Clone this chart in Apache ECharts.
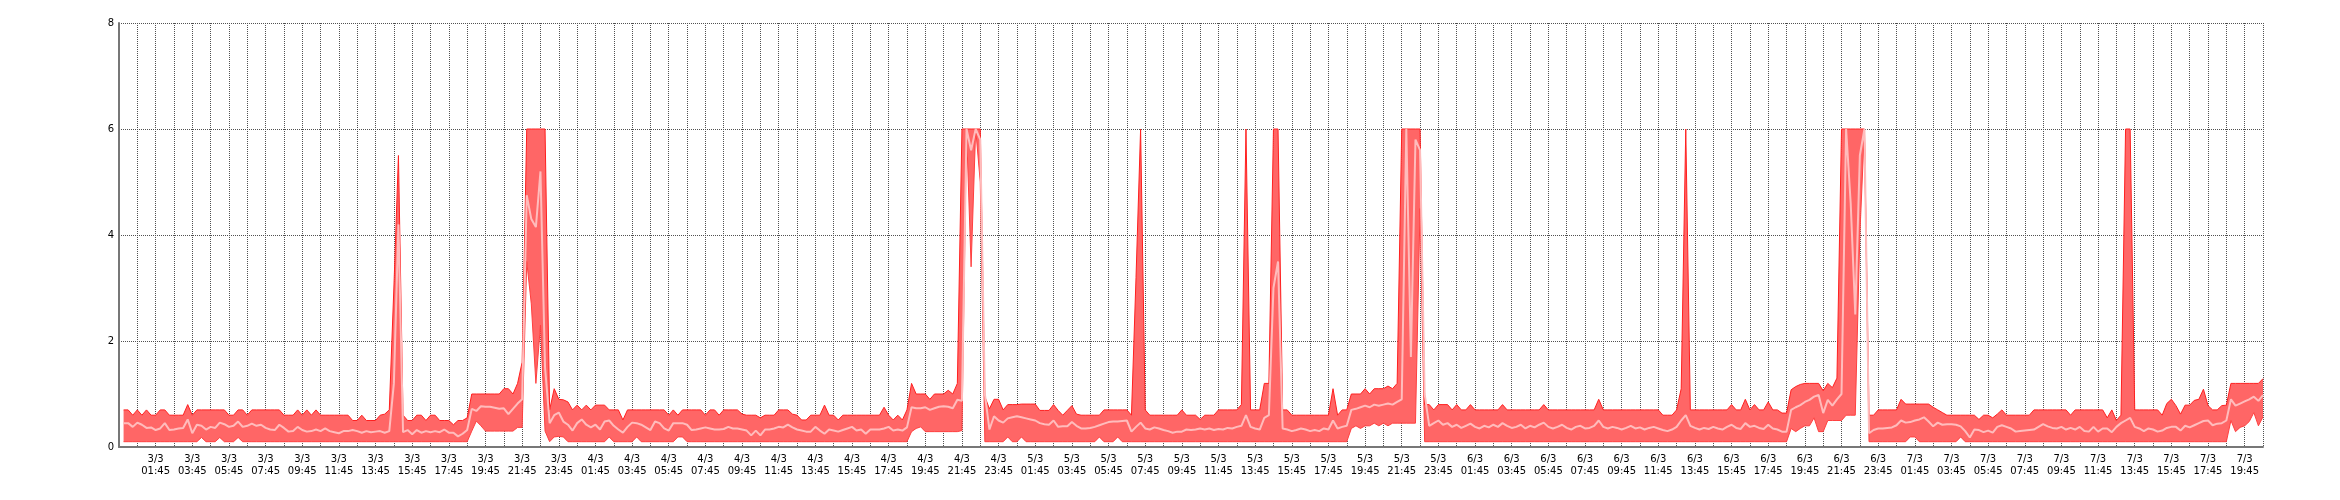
<!DOCTYPE html>
<html>
<head>
<meta charset="utf-8">
<script src="https://cdn.jsdelivr.net/npm/echarts@6/dist/echarts.min.js"></script>
<style>
html,body{margin:0;padding:0;background:#fff;}
#chart{width:2340px;height:500px;}
</style>
</head>
<body>
<div id="chart"></div>
<script>
// x axis: hours since 2/3 23:45 ; one point every 15 minutes starting 3/3 00:00
const dayLabels = ['2/3','3/3','4/3','5/3','6/3','7/3'];
const yTicks = [0,2,4,6,8];

// ---- 3/3 ----
const max3 = [0.7,0.7,0.6,0.7, 0.6,0.7,0.6,0.6, 0.7,0.7,0.6,0.6, 0.6,0.6,0.8,0.6,
 0.7,0.7,0.7,0.7, 0.7,0.7,0.7,0.6, 0.6,0.7,0.7,0.6, 0.7,0.7,0.7,0.7,
 0.7,0.7,0.7,0.6, 0.6,0.6,0.7,0.6, 0.7,0.6,0.7,0.6, 0.6,0.6,0.6,0.6,
 0.6,0.6,0.5,0.5, 0.6,0.5,0.5,0.5, 0.6,0.62,0.7,3.0, 5.5,0.6,0.5,0.5,
 0.6,0.6,0.5,0.6, 0.6,0.5,0.5,0.5, 0.42,0.5,0.5,0.55, 1.0,1.0,1.0,1.0,
 1.0,1.0,1.0,1.1, 1.1,1.0,1.2,1.6, 6,6,6,6, 6,0.7,1.1,0.9];
const min3 = [0.1,0.1,0.1,0.1, 0.1,0.1,0.1,0.1, 0.1,0.1,0.1,0.1, 0.1,0.1,0.1,0.1,
 0.1,0.18,0.1,0.1, 0.1,0.18,0.1,0.1, 0.1,0.18,0.1,0.1, 0.1,0.1,0.1,0.1,
 0.1,0.1,0.1,0.1, 0.1,0.1,0.1,0.1, 0.1,0.1,0.1,0.1, 0.1,0.1,0.1,0.1,
 0.1,0.1,0.1,0.1, 0.1,0.1,0.1,0.1, 0.1,0.1,0.1,0.1, 0.1,0.1,0.1,0.1,
 0.1,0.1,0.1,0.1, 0.1,0.1,0.1,0.1, 0.1,0.1,0.1,0.1, 0.3,0.49,0.4,0.3,
 0.3,0.3,0.3,0.3, 0.3,0.3,0.37,0.37, 3.5,2.7,1.2,2.3, 0.3,0.1,0.19,0.2];
const avg3 = [0.45,0.45,0.38,0.46, 0.42,0.36,0.37,0.32, 0.35,0.45,0.32,0.33, 0.35,0.36,0.52,0.26,
 0.42,0.40,0.33,0.38, 0.36,0.46,0.43,0.38, 0.40,0.48,0.38,0.40, 0.44,0.40,0.42,0.36,
 0.33,0.32,0.42,0.36, 0.29,0.30,0.38,0.32, 0.29,0.30,0.33,0.30, 0.35,0.30,0.28,0.26,
 0.30,0.30,0.32,0.30, 0.27,0.30,0.28,0.29, 0.30,0.27,0.30,1.2, 4.2,0.28,0.32,0.24,
 0.32,0.27,0.30,0.28, 0.30,0.28,0.33,0.27, 0.27,0.20,0.25,0.32, 0.72,0.68,0.77,0.76,
 0.76,0.74,0.72,0.73, 0.62,0.72,0.82,0.9, 4.75,4.3,4.15,5.2, 1.5,0.45,0.6,0.65];

// ---- 4/3 ----
const max4 = [0.89,0.85,0.7,0.79, 0.7,0.79,0.7,0.79, 0.79,0.79,0.7,0.7, 0.7,0.51,0.7,0.7,
 0.7,0.7,0.7,0.7, 0.7,0.7,0.7,0.6, 0.7,0.6,0.7,0.7, 0.7,0.7,0.7,0.6,
 0.7,0.7,0.6,0.7, 0.7,0.7,0.7,0.62, 0.6,0.6,0.6,0.55, 0.6,0.6,0.6,0.7,
 0.7,0.7,0.62,0.6, 0.51,0.51,0.6,0.6, 0.6,0.79,0.6,0.6, 0.51,0.6,0.6,0.6,
 0.6,0.6,0.6,0.6, 0.6,0.6,0.75,0.6, 0.51,0.6,0.51,0.7, 1.2,1.0,1.0,1.0,
 0.9,1.0,1.0,1.0, 1.07,1.0,1.2,6, 6,6,6,6, 0.95,0.72,0.9,0.9];
const min4 = [0.19,0.1,0.1,0.1, 0.1,0.1,0.1,0.1, 0.1,0.1,0.19,0.1, 0.1,0.1,0.1,0.1,
 0.19,0.1,0.1,0.1, 0.1,0.1,0.1,0.1, 0.1,0.19,0.19,0.1, 0.1,0.1,0.1,0.1,
 0.1,0.1,0.1,0.1, 0.1,0.1,0.1,0.1, 0.1,0.1,0.1,0.1, 0.1,0.1,0.1,0.1,
 0.1,0.1,0.1,0.1, 0.1,0.1,0.1,0.1, 0.1,0.1,0.1,0.1, 0.1,0.1,0.1,0.1,
 0.1,0.1,0.1,0.1, 0.1,0.1,0.1,0.1, 0.1,0.1,0.1,0.1, 0.29,0.35,0.38,0.29,
 0.29,0.29,0.29,0.29, 0.29,0.29,0.29,0.31, 6,3.4,6,5, 0.1,0.1,0.1,0.1];
const avg4 = [0.48,0.42,0.31,0.45, 0.52,0.42,0.37,0.42, 0.33,0.48,0.5,0.4, 0.33,0.27,0.38,0.46,
 0.45,0.42,0.37,0.32, 0.48,0.45,0.35,0.31, 0.45,0.45,0.45,0.42, 0.32,0.33,0.35,0.37,
 0.35,0.33,0.33,0.34, 0.38,0.35,0.35,0.33, 0.31,0.22,0.31,0.22, 0.33,0.33,0.35,0.38,
 0.37,0.42,0.37,0.33, 0.31,0.29,0.29,0.38, 0.31,0.25,0.33,0.31, 0.29,0.32,0.35,0.38,
 0.31,0.33,0.25,0.33, 0.33,0.33,0.35,0.38, 0.31,0.33,0.31,0.37, 0.75,0.73,0.73,0.75,
 0.7,0.73,0.76,0.77, 0.76,0.73,0.89,0.87, 6,5.6,6,5.8, 1.0,0.33,0.58,0.5];

// ---- 5/3 ----
const max5 = [0.7,0.8,0.8,0.8, 0.81,0.81,0.81,0.81, 0.69,0.69,0.69,0.8, 0.69,0.6,0.69,0.78,
 0.62,0.6,0.6,0.6, 0.6,0.6,0.7,0.7, 0.7,0.7,0.7,0.7, 0.6,3.2,6,0.7,
 0.6,0.6,0.6,0.6, 0.6,0.6,0.6,0.7, 0.6,0.6,0.6,0.52, 0.6,0.6,0.6,0.7,
 0.7,0.7,0.7,0.7, 0.8,6,0.7,0.7, 0.7,1.2,1.2,6, 6,0.7,0.7,0.6,
 0.6,0.6,0.6,0.6, 0.6,0.6,0.6,0.6, 1.1,0.6,0.7,0.7, 1.0,1.0,1.0,1.1,
 1.0,1.1,1.1,1.1, 1.15,1.1,1.2,6, 6,6,6,6, 0.8,0.8,0.7,0.8];
const min5 = [0.1,0.19,0.1,0.1, 0.19,0.1,0.1,0.1, 0.1,0.1,0.1,0.1, 0.1,0.1,0.1,0.1,
 0.1,0.1,0.1,0.1, 0.1,0.19,0.1,0.1, 0.1,0.19,0.1,0.1, 0.1,0.1,0.1,0.1,
 0.1,0.1,0.1,0.1, 0.1,0.1,0.1,0.1, 0.1,0.1,0.1,0.1, 0.1,0.1,0.1,0.1,
 0.1,0.1,0.1,0.1, 0.1,0.1,0.1,0.1, 0.1,0.1,0.1,0.1, 0.1,0.1,0.1,0.1,
 0.1,0.1,0.1,0.1, 0.1,0.1,0.1,0.1, 0.1,0.1,0.1,0.1, 0.35,0.4,0.35,0.4,
 0.4,0.45,0.4,0.45, 0.4,0.45,0.45,0.45, 0.45,0.45,0.45,4.5, 0.1,0.1,0.1,0.1];
const avg5 = [0.46,0.54,0.56,0.58, 0.56,0.54,0.52,0.5, 0.45,0.43,0.42,0.5, 0.38,0.39,0.39,0.47,
 0.4,0.35,0.35,0.36, 0.38,0.41,0.44,0.47, 0.48,0.48,0.49,0.5, 0.29,0.38,0.46,0.35,
 0.33,0.37,0.35,0.32, 0.3,0.27,0.29,0.29, 0.33,0.32,0.33,0.35, 0.33,0.35,0.32,0.34,
 0.33,0.36,0.35,0.38, 0.4,0.6,0.38,0.35, 0.33,0.55,0.6,3.0, 3.5,0.35,0.33,0.3,
 0.32,0.35,0.33,0.3, 0.32,0.3,0.35,0.33, 0.5,0.35,0.38,0.4, 0.7,0.72,0.75,0.78,
 0.75,0.8,0.78,0.8, 0.82,0.8,0.85,0.9, 6,1.7,5.8,5.6, 1.0,0.4,0.45,0.5];

// ---- 6/3 ----
const max6 = [0.8,0.8,0.7,0.8, 0.7,0.7,0.8,0.7, 0.7,0.7,0.7,0.7, 0.7,0.8,0.7,0.7,
 0.7,0.7,0.7,0.7, 0.7,0.7,0.8,0.7, 0.7,0.7,0.7,0.7, 0.7,0.7,0.7,0.7,
 0.7,0.7,0.9,0.7, 0.7,0.7,0.7,0.7, 0.7,0.7,0.7,0.7, 0.7,0.7,0.7,0.7,
 0.6,0.6,0.6,0.7, 1.1,6,0.7,0.7, 0.7,0.7,0.7,0.7, 0.7,0.7,0.7,0.8,
 0.7,0.7,0.9,0.7, 0.8,0.7,0.7,0.85, 0.7,0.7,0.64,0.64, 1.08,1.14,1.18,1.2,
 1.2,1.2,1.2,1.06, 1.2,1.12,1.3,6, 6,6,6,6, 6,0.6,0.6,0.7];
const min6 = [0.1,0.1,0.1,0.1, 0.1,0.1,0.1,0.1, 0.1,0.1,0.1,0.1, 0.1,0.1,0.1,0.1,
 0.1,0.1,0.1,0.1, 0.1,0.1,0.1,0.1, 0.1,0.1,0.1,0.1, 0.1,0.1,0.1,0.1,
 0.1,0.1,0.1,0.1, 0.1,0.1,0.1,0.1, 0.1,0.1,0.1,0.1, 0.1,0.1,0.1,0.1,
 0.1,0.1,0.1,0.1, 0.1,0.1,0.1,0.1, 0.1,0.1,0.1,0.1, 0.1,0.1,0.1,0.1,
 0.1,0.1,0.1,0.1, 0.1,0.1,0.1,0.1, 0.1,0.1,0.1,0.1, 0.35,0.29,0.35,0.4,
 0.4,0.55,0.29,0.29, 0.5,0.5,0.5,0.5, 0.6,0.6,0.6,4.0, 6,0.1,0.1,0.1];
const avg6 = [0.42,0.45,0.38,0.42, 0.36,0.4,0.44,0.38, 0.35,0.4,0.37,0.42, 0.38,0.45,0.4,0.36,
 0.38,0.42,0.35,0.4, 0.37,0.42,0.46,0.38, 0.35,0.38,0.42,0.36, 0.33,0.38,0.4,0.35,
 0.36,0.4,0.5,0.38, 0.35,0.38,0.36,0.33, 0.36,0.4,0.35,0.37, 0.33,0.36,0.38,0.35,
 0.32,0.3,0.33,0.38, 0.5,0.6,0.4,0.36, 0.33,0.36,0.34,0.38, 0.35,0.33,0.38,0.42,
 0.36,0.34,0.45,0.38, 0.4,0.36,0.34,0.42, 0.35,0.33,0.29,0.29, 0.7,0.75,0.79,0.85,
 0.89,0.95,0.98,0.64, 0.89,0.78,0.9,1.0, 6,4.6,2.5,5.5, 6,0.26,0.32,0.35];

// ---- 7/3 (until 20:45) ----
const max7 = [0.7,0.7,0.7,0.7, 0.9,0.81,0.81,0.81, 0.81,0.81,0.81,0.75, 0.7,0.65,0.6,0.6,
 0.6,0.6,0.6,0.6, 0.6,0.52,0.6,0.6, 0.55,0.62,0.7,0.6, 0.6,0.6,0.6,0.6,
 0.6,0.7,0.7,0.7, 0.7,0.7,0.7,0.7, 0.7,0.6,0.7,0.7, 0.7,0.7,0.7,0.7,
 0.7,0.55,0.7,0.5, 0.6,6,6,0.7, 0.7,0.7,0.7,0.7, 0.7,0.6,0.82,0.9,
 0.78,0.62,0.79,0.79, 0.88,0.9,1.09,0.78, 0.7,0.7,0.78,0.79, 1.2,1.2,1.2,1.2,
 1.2,1.2,1.2,1.29];
const min7 = [0.1,0.1,0.1,0.1, 0.1,0.1,0.19,0.19, 0.1,0.1,0.1,0.1, 0.1,0.1,0.1,0.1,
 0.1,0.19,0.1,0.1, 0.1,0.1,0.1,0.1, 0.1,0.1,0.1,0.1, 0.1,0.1,0.1,0.1,
 0.1,0.1,0.1,0.1, 0.1,0.1,0.1,0.1, 0.1,0.1,0.1,0.1, 0.1,0.1,0.1,0.1,
 0.1,0.1,0.1,0.1, 0.1,0.1,0.1,0.1, 0.1,0.1,0.1,0.1, 0.1,0.1,0.1,0.1,
 0.1,0.1,0.1,0.1, 0.1,0.1,0.1,0.1, 0.1,0.1,0.1,0.1, 0.5,0.29,0.37,0.4,
 0.48,0.65,0.4,0.57];
const avg7 = [0.35,0.36,0.37,0.41, 0.5,0.46,0.47,0.5, 0.52,0.56,0.48,0.39, 0.46,0.42,0.43,0.43,
 0.42,0.39,0.3,0.18, 0.33,0.32,0.28,0.31, 0.27,0.38,0.41,0.38, 0.35,0.29,0.3,0.31,
 0.32,0.33,0.38,0.43, 0.39,0.36,0.35,0.38, 0.33,0.36,0.33,0.38, 0.3,0.29,0.38,0.29,
 0.35,0.35,0.28,0.38, 0.45,0.5,0.55,0.38, 0.35,0.3,0.35,0.33, 0.29,0.31,0.36,0.38,
 0.38,0.31,0.4,0.37, 0.41,0.45,0.49,0.5, 0.41,0.44,0.45,0.5, 0.9,0.78,0.82,0.86,
 0.9,0.95,0.87,0.98];

const maxAll = [].concat(max3, max4, max5, max6, max7);
const minAll = [].concat(min3, min4, min5, min6, min7);
const avgAll = [].concat(avg3, avg4, avg5, avg6, avg7);
const xOf = k => 0.25 * (k + 1);

const maxData = maxAll.map((v, k) => [xOf(k), v]);
const minData = minAll.map((v, k) => [xOf(k), v]);
const avgData = avgAll.map((v, k) => [xOf(k), v]);

function xLabel(v) {
  if (v <= 0 || v % 2 !== 0) return '';
  const totalMin = (23 * 60 + 45) + v * 60;
  const d = Math.floor(totalMin / 1440);
  const m = totalMin % 1440;
  const hh = String(Math.floor(m / 60)).padStart(2, '0');
  const mm = String(m % 60).padStart(2, '0');
  return dayLabels[d] + '\n' + hh + ':' + mm;
}

function renderBand(params, api) {
  if (params.dataIndex !== 0) return null;
  const pts = [];
  for (let k = 0; k < maxData.length; k++) pts.push(api.coord(maxData[k]));
  for (let k = minData.length - 1; k >= 0; k--) pts.push(api.coord(minData[k]));
  return {type: 'polygon', shape: {points: pts}, style: {fill: '#ff6666', stroke: null}};
}

const chart = echarts.init(document.getElementById('chart'), null, {renderer: 'canvas'});
chart.setOption({
  animation: false,
  backgroundColor: '#ffffff',
  grid: {left: 119, right: 77, top: 23, bottom: 53, containLabel: false},
  xAxis: {
    type: 'value', min: 0, max: 117, interval: 1,
    axisLine: {show: true, lineStyle: {color: '#777', width: 2}},
    axisTick: {show: false},
    axisLabel: {
      formatter: xLabel, color: '#000', fontFamily: 'DejaVu Sans', fontSize: 10,
      lineHeight: 12, margin: 6, showMinLabel: false, showMaxLabel: false, hideOverlap: false
    },
    splitLine: {show: true, lineStyle: {color: '#505050', width: 1, type: [1, 1]}}
  },
  yAxis: {
    type: 'value', min: yTicks[0], max: yTicks[yTicks.length - 1], interval: 2,
    axisLine: {show: true, lineStyle: {color: '#777', width: 2}},
    axisTick: {show: false},
    axisLabel: {color: '#000', fontFamily: 'DejaVu Sans', fontSize: 10, margin: 5},
    splitLine: {show: true, lineStyle: {color: '#505050', width: 1, type: [1, 1]}}
  },
  series: [
    {
      name: 'band', type: 'custom', renderItem: renderBand,
      data: [[0, 0]], z: 2, silent: true, clip: true
    },
    {
      name: 'min', type: 'line', data: minData, symbol: 'none',
      lineStyle: {color: '#ff4040', width: 1}, z: 3, silent: true
    },
    {
      name: 'max', type: 'line', data: maxData, symbol: 'none',
      lineStyle: {color: '#ff2020', width: 1}, z: 3, silent: true
    },
    {
      name: 'avg', type: 'line', data: avgData, symbol: 'none',
      lineStyle: {color: '#ffbcbc', width: 2}, z: 4, silent: true
    }
  ]
});
</script>
</body>
</html>
